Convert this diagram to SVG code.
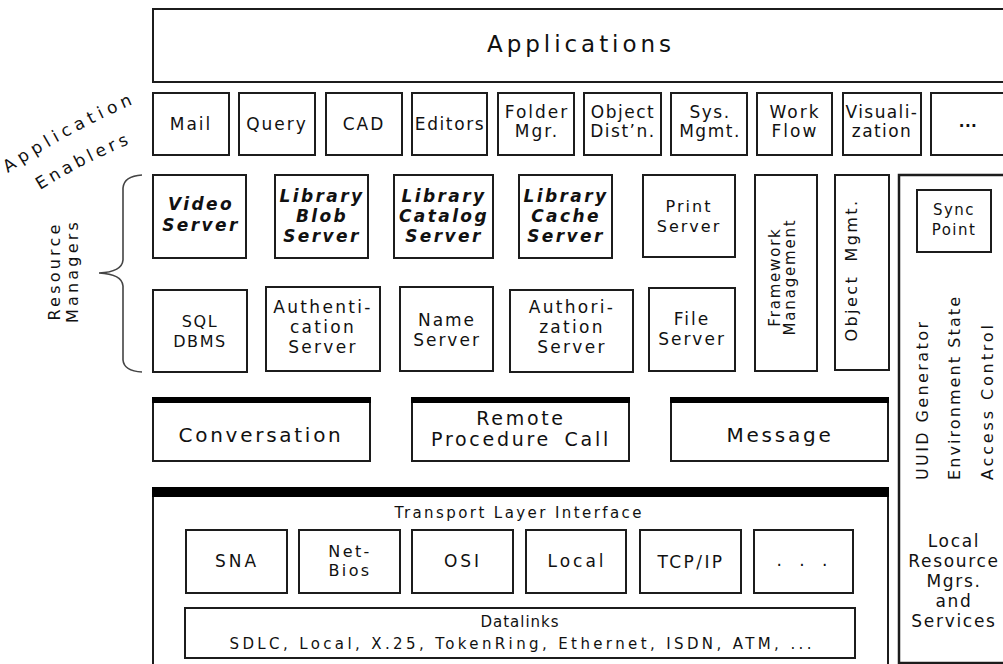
<svg xmlns="http://www.w3.org/2000/svg" width="1003" height="664" viewBox="0 0 1003 664">
<style>
.box{fill:#fff;stroke:#1c1c1c;stroke-width:2}
.bar{fill:#000}
.t{font-family:"DejaVu Sans","Liberation Sans",sans-serif;font-size:17px;fill:#111;text-anchor:middle;letter-spacing:2px}
.bi{font-weight:bold;font-style:italic;letter-spacing:2.4px}
.s16{font-size:16px}
.s15{font-size:15px}
.big{font-size:20px;letter-spacing:2.7px}
.lab{font-family:"DejaVu Sans","Liberation Sans",sans-serif;font-size:17px;fill:#111;letter-spacing:4.8px}
.brace{fill:none;stroke:#444;stroke-width:1.6}
</style>
<defs>
<path id="pApp" d="M8,173 Q70,130 150,97"/>
<path id="pEn" d="M40,190 Q88,160 142,139"/>
</defs>
<rect width="1003" height="664" fill="#fff"/>

<g id="applications">
<rect class="box" x="153" y="9" width="860" height="73"/>
<text class="t" x="580" y="52" style="font-size:23px" textLength="186" lengthAdjust="spacing">Applications</text>
</g>

<g id="application-enablers-label">
<text class="lab"><textPath href="#pApp">Application</textPath><textPath href="#pEn" style="letter-spacing:3.8px">Enablers</textPath></text>
</g>

<g id="enabler-mail"><rect class="box" x="153" y="93" width="76" height="62"/><text class="t" x="191" y="130">Mail</text></g>
<g id="enabler-query"><rect class="box" x="239" y="93" width="76" height="62"/><text class="t" x="277" y="130">Query</text></g>
<g id="enabler-cad"><rect class="box" x="326" y="93" width="76" height="62"/><text class="t" x="364" y="130">CAD</text></g>
<g id="enabler-editors"><rect class="box" x="412" y="93" width="75" height="62"/><text class="t" x="450" y="130" style="letter-spacing:1.6px">Editors</text></g>
<g id="enabler-folder"><rect class="box" x="498" y="93" width="76" height="62"/><text class="t" x="537" y="118"><tspan x="537">Folder</tspan><tspan x="537" dy="19">Mgr.</tspan></text></g>
<g id="enabler-objdist"><rect class="box" x="584" y="93" width="77" height="62"/><text class="t" x="623" y="118" style="letter-spacing:1.5px"><tspan x="623">Object</tspan><tspan x="623" dy="19">Dist’n.</tspan></text></g>
<g id="enabler-sysmgmt"><rect class="box" x="671" y="93" width="76" height="62"/><text class="t" x="710" y="118" style="letter-spacing:1.5px"><tspan x="710">Sys.</tspan><tspan x="710" dy="19">Mgmt.</tspan></text></g>
<g id="enabler-workflow"><rect class="box" x="757" y="93" width="75" height="62"/><text class="t" x="795" y="118"><tspan x="795">Work</tspan><tspan x="795" dy="19">Flow</tspan></text></g>
<g id="enabler-visualization"><rect class="box" x="843" y="93" width="78" height="62"/><text class="t" x="882" y="118" style="letter-spacing:1.4px"><tspan x="882">Visuali-</tspan><tspan x="882" dy="19">zation</tspan></text></g>
<g id="enabler-more"><rect class="box" x="931" y="93" width="80" height="62"/><text class="t" x="968" y="127" style="font-weight:bold;font-size:15px;letter-spacing:0.5px">...</text></g>

<g id="annotations">
<path class="brace" d="M142,175 Q124,176 123,188 L123,260 Q122,272 99,273 Q122,274 123,286 L123,360 Q124,371 142,372"/>
<text class="t s16" transform="translate(60,271) rotate(-90)" style="letter-spacing:3.2px"><tspan x="0" y="0">Resource</tspan><tspan x="0" y="18">Managers</tspan></text>
</g>

<g id="video-server"><rect class="box" x="153" y="175" width="93" height="83"/><text class="t bi" x="201" y="210"><tspan x="201">Video</tspan><tspan x="201" dy="21">Server</tspan></text></g>
<g id="library-blob-server"><rect class="box" x="275" y="175" width="93" height="83"/><text class="t bi" x="322" y="202"><tspan x="322">Library</tspan><tspan x="322" dy="20">Blob</tspan><tspan x="322" dy="20">Server</tspan></text></g>
<g id="library-catalog-server"><rect class="box" x="394" y="175" width="99" height="83"/><text class="t bi" x="444" y="202"><tspan x="444">Library</tspan><tspan x="444" dy="20">Catalog</tspan><tspan x="444" dy="20">Server</tspan></text></g>
<g id="library-cache-server"><rect class="box" x="519" y="175" width="93" height="83"/><text class="t bi" x="566" y="202"><tspan x="566">Library</tspan><tspan x="566" dy="20">Cache</tspan><tspan x="566" dy="20">Server</tspan></text></g>
<g id="print-server"><rect class="box" x="643" y="175" width="92" height="82"/><text class="t s16" x="689" y="212"><tspan x="689">Print</tspan><tspan x="689" dy="20">Server</tspan></text></g>
<g id="framework-management"><rect class="box" x="755" y="175" width="62" height="196"/><text class="t s15" transform="translate(0,277) rotate(-90)" style="letter-spacing:1.8px"><tspan x="0" y="780">Framework</tspan><tspan x="0" y="795">Management</tspan></text></g>
<g id="object-mgmt"><rect class="box" x="835" y="175" width="54" height="195"/><text class="t s16" transform="translate(857,270) rotate(-90)" style="letter-spacing:2.4px;word-spacing:6px">Object Mgmt.</text></g>

<g id="sql-dbms"><rect class="box" x="153" y="290" width="94" height="82"/><text class="t s16" x="200" y="327" style="letter-spacing:1.6px"><tspan x="200">SQL</tspan><tspan x="200" dy="20">DBMS</tspan></text></g>
<g id="authentication-server"><rect class="box" x="266" y="287" width="114" height="84"/><text class="t" x="323" y="313" style="letter-spacing:2.3px"><tspan x="323">Authenti-</tspan><tspan x="323" dy="20">cation</tspan><tspan x="323" dy="20">Server</tspan></text></g>
<g id="name-server"><rect class="box" x="400" y="287" width="93" height="84"/><text class="t" x="447" y="326"><tspan x="447">Name</tspan><tspan x="447" dy="20">Server</tspan></text></g>
<g id="authorization-server"><rect class="box" x="510" y="290" width="123" height="82"/><text class="t" x="572" y="313" style="letter-spacing:2.3px"><tspan x="572">Authori-</tspan><tspan x="572" dy="20">zation</tspan><tspan x="572" dy="20">Server</tspan></text></g>
<g id="file-server"><rect class="box" x="649" y="288" width="86" height="83"/><text class="t" x="692" y="325"><tspan x="692">File</tspan><tspan x="692" dy="20">Server</tspan></text></g>

<g id="local-services">
<rect class="box" x="899" y="175" width="115" height="488" style="stroke-width:2.5"/>
<text class="t s16" transform="translate(928,480) rotate(-90)" style="text-anchor:start" textLength="160" lengthAdjust="spacing">UUID Generator</text>
<text class="t s16" transform="translate(960,480) rotate(-90)" style="text-anchor:start" textLength="185" lengthAdjust="spacing">Environment State</text>
<text class="t s16" transform="translate(993,480) rotate(-90)" style="text-anchor:start" textLength="157" lengthAdjust="spacing">Access Control</text>
<text class="t" x="954" y="547" style="letter-spacing:1.7px"><tspan x="954">Local</tspan><tspan x="954" dy="20">Resource</tspan><tspan x="954" dy="20">Mgrs.</tspan><tspan x="954" dy="20">and</tspan><tspan x="954" dy="20">Services</tspan></text>
</g>
<g id="sync-point"><rect class="box" x="917" y="190" width="74" height="62"/><text class="t s15" x="954" y="215" style="letter-spacing:1.5px"><tspan x="954">Sync</tspan><tspan x="954" dy="20">Point</tspan></text></g>

<g id="conversation"><rect class="box" x="153" y="398" width="217" height="63"/><rect class="bar" x="152" y="397" width="219" height="6"/><text class="t big" x="261" y="442" textLength="165" lengthAdjust="spacing">Conversation</text></g>
<g id="rpc"><rect class="box" x="412" y="398" width="217" height="63"/><rect class="bar" x="411" y="397" width="219" height="6"/><text class="t big" x="521" y="425" style="font-size:19px"><tspan x="521">Remote</tspan><tspan x="521" dy="21" style="word-spacing:5px">Procedure Call</tspan></text></g>
<g id="message"><rect class="box" x="671" y="398" width="217" height="63"/><rect class="bar" x="670" y="397" width="219" height="6"/><text class="t big" x="780" y="442" textLength="107" lengthAdjust="spacing">Message</text></g>

<g id="transport">
<rect class="box" x="153" y="489" width="735" height="185"/>
<rect class="bar" x="152" y="487" width="737" height="10"/>
<text class="t s15" x="519" y="518" textLength="249" lengthAdjust="spacing">Transport  Layer  Interface</text>
</g>
<g id="sna"><rect class="box" x="186" y="530" width="101" height="63"/><text class="t" x="237" y="567" style="letter-spacing:3px">SNA</text></g>
<g id="netbios"><rect class="box" x="299" y="530" width="101" height="63"/><text class="t s16" x="350" y="557" style="letter-spacing:2.4px"><tspan x="350">Net-</tspan><tspan x="350" dy="19">Bios</tspan></text></g>
<g id="osi"><rect class="box" x="412" y="530" width="101" height="63"/><text class="t" x="463" y="567" style="letter-spacing:3px">OSI</text></g>
<g id="local"><rect class="box" x="526" y="530" width="100" height="63"/><text class="t" x="577" y="567" style="letter-spacing:3px">Local</text></g>
<g id="tcpip"><rect class="box" x="640" y="530" width="101" height="63"/><text class="t" x="691" y="568" style="letter-spacing:2.4px">TCP/IP</text></g>
<g id="proto-more"><rect class="box" x="754" y="530" width="99" height="63"/><text class="t" x="805" y="566" style="letter-spacing:6px">. . .</text></g>
<g id="datalinks"><rect class="box" x="185" y="608" width="670" height="50"/><text class="t s15" x="520" y="627" style="letter-spacing:1px"><tspan x="520">Datalinks</tspan><tspan x="521" dy="22" textLength="583" lengthAdjust="spacing">SDLC,  Local,  X.25,  TokenRing,  Ethernet,  ISDN,  ATM,  ...</tspan></text></g>

<g id="connectors"></g>
</svg>
